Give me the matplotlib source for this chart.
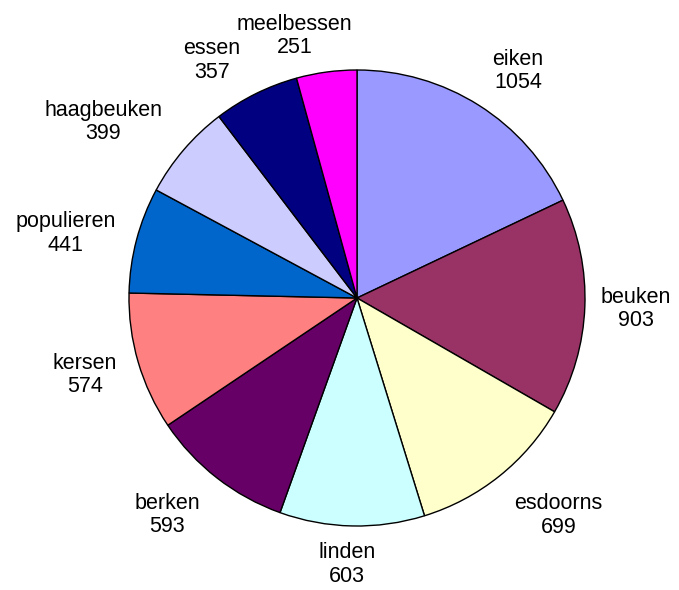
import matplotlib
matplotlib.use('Agg')
import matplotlib.pyplot as plt
import numpy as np

# tree counts per species
names = ['eiken', 'beuken', 'esdoorns', 'linden', 'berken', 'kersen',
         'populieren', 'haagbeuken', 'essen', 'meelbessen']
counts = [1054, 903, 699, 603, 593, 574, 441, 399, 357, 251]
colors = ['#9999FF', '#993366', '#FFFFCC', '#CCFFFF', '#660066', '#FF8080',
          '#0066CC', '#CCCCFF', '#000080', '#FF00FF']

plt.rcParams['font.family'] = ['Liberation Sans', 'DejaVu Sans']

W, H = 679, 590
fig = plt.figure(figsize=(W / 100, H / 100), dpi=100)
cx, cy, r = 357, 298, 228
ax = fig.add_axes([(cx - r) / W, (H - cy - r) / H, 2 * r / W, 2 * r / H])

labels = ['%s\n%d' % (n, c) for n, c in zip(names, counts)]
wedges, texts = ax.pie(counts, labels=labels, colors=colors, startangle=90,
                       counterclock=False, radius=1.0, labeldistance=1.24,
                       wedgeprops=dict(edgecolor='black', linewidth=1.0),
                       textprops=dict(fontsize=15.5, ha='center', va='center',
                                      multialignment='center', linespacing=1.15))

# label placement: radial distance and angle shift from the wedge middle
label_pos = {'eiken': (1.22, -3.1), 'beuken': (1.225, 0.0),
             'esdoorns': (1.30, 4.2), 'linden': (1.17, -0.9),
             'berken': (1.265, -3.3), 'kersen': (1.24, -0.5),
             'populieren': (1.31, 2.3), 'haagbeuken': (1.355, 5.8),
             'essen': (1.22, 5.1), 'meelbessen': (1.18, 5.7)}
for w, t, n in zip(wedges, texts, names):
    d, shift = label_pos[n]
    ang = np.deg2rad((w.theta1 + w.theta2) / 2 + shift)
    t.set_position((d * np.cos(ang), d * np.sin(ang)))

ax.set_xlim(-1, 1)
ax.set_ylim(-1, 1)
ax.set_aspect('equal')

fig.savefig('out.png', dpi=100, facecolor='white')
